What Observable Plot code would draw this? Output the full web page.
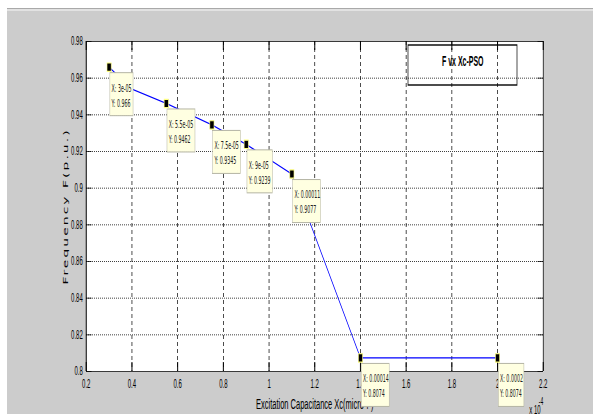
<!DOCTYPE html>
<html>
<head>
<meta charset="utf-8">
<script src="https://cdn.jsdelivr.net/npm/d3@7"></script>
<script src="https://cdn.jsdelivr.net/npm/@observablehq/plot@0.6"></script>
<style>
  html, body { margin: 0; padding: 0; background: #ffffff; }
  body { width: 593px; height: 414px; overflow: hidden; position: relative; }
  #fig { position: absolute; left: 7px; top: 8px; width: 586px; height: 406px;
         background: #cccccc; border-top: 1px solid #a9a9a9; box-sizing: border-box;
         box-shadow: inset 0 2px 0 #e2e2e2; }
  #chart { position: absolute; left: 0; top: 0; width: 593px; height: 414px; }
</style>
</head>
<body>
<div id="fig"></div>
<div id="chart"></div>
<script>
// ---- data (x in units of 1e-4 F) ----
const xValues = [0.3, 0.4, 0.55, 0.75, 0.9, 1.1, 1.4, 2.0];
const yValues = [0.966, 0.954, 0.9462, 0.9345, 0.9239, 0.9077, 0.8074, 0.8074];
const tipX = [0.3, 0.55, 0.75, 0.9, 1.1, 1.4, 2.0];
const tipY = [0.966, 0.9462, 0.9345, 0.9239, 0.9077, 0.8074, 0.8074];
const tipXLabels = ["3e-05", "5.5e-05", "7.5e-05", "9e-05", "0.00011", "0.00014", "0.0002"];
const tipYLabels = ["0.966", "0.9462", "0.9345", "0.9239", "0.9077", "0.8074", "0.8074"];
const xTicks = [0.2, 0.4, 0.6, 0.8, 1.0, 1.2, 1.4, 1.6, 1.8, 2.0, 2.2];
const xTickLabels = ["0.2", "0.4", "0.6", "0.8", "1", "1.2", "1.4", "1.6", "1.8", "2", "2.2"];
const yTicks = [0.8, 0.82, 0.84, 0.86, 0.88, 0.9, 0.92, 0.94, 0.96, 0.98];
const yTickLabels = ["0.8", "0.82", "0.84", "0.86", "0.88", "0.9", "0.92", "0.94", "0.96", "0.98"];
const legendLabel = "F vx Xc-PSO";
const xLabel = "Excitation Capacitance Xc(micro-F)";
const yLabel = "Frequency F(p.u.)";
const xMultiplier = "x 10";
const xExponent = "-4";

// ---- build ----
const S = 2;                 // horizontal squash factor of the original screenshot
const W = 593 * S, H = 414;
const series = xValues.map((x, i) => ({x, y: yValues[i]}));
const tips = tipX.map((x, i) => ({x, y: tipY[i], lx: "X: " + tipXLabels[i], ly: "Y: " + tipYLabels[i]}));
const xFmt = new Map(xTicks.map((t, i) => [t, xTickLabels[i]]));
const yFmt = new Map(yTicks.map((t, i) => [t, yTickLabels[i]]));
const x0 = xTicks[0], x1 = xTicks[xTicks.length - 1];
const y0 = yTicks[0], y1 = yTicks[yTicks.length - 1];
const tickLenY = (y1 - y0) * 9 / 330;    // ~9 px
const tickLenX = (x1 - x0) * 11 / 914;   // ~11 internal px
const tipFont = "'Liberation Sans Narrow', 'Arial Narrow', 'DejaVu Sans Condensed', sans-serif";

const tipBoxes = tips.map(t => {
  const len = Math.max(t.lx.length, t.ly.length);
  const w = S * (4 + 2.4 * len);
  return Plot.rect([t], {x1: "x", x2: "x", y1: "y", y2: "y",
    insetLeft: 2, insetRight: -(2 + w), insetTop: 6, insetBottom: -49,
    fill: "#ffffe1", stroke: "#b4b4a4", strokeWidth: 1});
});

const svg = Plot.plot({
  width: W, height: H,
  marginLeft: 172, marginRight: 100, marginTop: 41, marginBottom: 43,
  style: {fontFamily: "'Liberation Sans', Arial, sans-serif", fontSize: "12px", color: "black", background: "transparent", overflow: "visible"},
  x: {domain: [x0, x1], ticks: xTicks, tickFormat: d => xFmt.get(d), tickSize: 0, tickPadding: 8, label: null},
  y: {domain: [y0, y1], ticks: yTicks, tickFormat: d => yFmt.get(d), tickSize: 0, tickPadding: 7, label: null},
  marks: [
    Plot.frame({fill: "white", stroke: "none"}),
    Plot.ruleY(yTicks.slice(1, -1), {stroke: "black", strokeWidth: 1, strokeDasharray: "2,2"}),
    Plot.ruleX(xTicks.slice(1, -1), {stroke: "black", strokeWidth: 1.4, strokeDasharray: "4,3"}),
    Plot.ruleX(xTicks, {y1: y0, y2: y0 + tickLenY, stroke: "black", strokeWidth: 2}),
    Plot.ruleX(xTicks, {y1: y1, y2: y1 - tickLenY, stroke: "black", strokeWidth: 2}),
    Plot.ruleY(yTicks, {x1: x0, x2: x0 + tickLenX, stroke: "black", strokeWidth: 1}),
    Plot.ruleY(yTicks, {x1: x1, x2: x1 - tickLenX, stroke: "black", strokeWidth: 1}),
    Plot.ruleY([y0, y1], {stroke: "black", strokeWidth: 1}),
    Plot.ruleX([x0], {stroke: "black", strokeWidth: 2}),
    Plot.ruleX([x1], {stroke: "black", strokeWidth: 1.5}),
    Plot.text([xLabel], {frameAnchor: "bottom", dy: 33, textAnchor: "middle", lineAnchor: "middle", fontSize: 15, fill: "black"}),
    Plot.text([yLabel], {frameAnchor: "left", rotate: -90, dx: -40, textAnchor: "middle", lineAnchor: "middle", fontSize: 14,
      fontFamily: "'DejaVu Sans', sans-serif", fill: "black"}),
    Plot.text([xMultiplier], {frameAnchor: "bottom-right", dx: -28, dy: 39, textAnchor: "start", lineAnchor: "middle", fontSize: 12, fill: "black"}),
    Plot.text([xExponent], {frameAnchor: "bottom-right", dx: -9, dy: 30, textAnchor: "start", lineAnchor: "middle", fontSize: 10, fill: "black"}),
    Plot.text([legendLabel], {frameAnchor: "top-right", dx: -161, dy: 20, textAnchor: "middle", lineAnchor: "middle", fontSize: 14, fontWeight: "bold", fill: "black"}),
    Plot.line(series, {x: "x", y: "y", stroke: "#0000ff", strokeWidth: 1.3}),
    ...tipBoxes,
    Plot.dot(tips, {x: "x", y: "y", symbol: "square", r: 4.7, fill: "black", stroke: "#ffff80", strokeWidth: 1.2}),
    Plot.text(tips, {x: "x", y: "y", text: "lx", dx: 5, dy: 21, textAnchor: "start", lineAnchor: "middle", fontSize: 10.5, fontFamily: tipFont, fill: "#222"}),
    Plot.text(tips, {x: "x", y: "y", text: "ly", dx: 5, dy: 36, textAnchor: "start", lineAnchor: "middle", fontSize: 10.5, fontFamily: tipFont, fill: "#222"})
  ]
});

svg.setAttribute("width", 593);
svg.setAttribute("height", 414);
svg.setAttribute("viewBox", `0 0 ${W} ${H}`);
svg.setAttribute("preserveAspectRatio", "none");
Object.assign(svg.style, {width: "593px", height: "414px", maxWidth: "none", background: "transparent", display: "block"});

d3.select(svg).selectAll("text").filter(function () { return this.textContent === yLabel; })
  .attr("letter-spacing", "2px");

// legend box
d3.select(svg).append("rect")
  .attr("x", 816).attr("y", 45).attr("width", 218).attr("height", 40)
  .attr("fill", "none").attr("stroke", "black").attr("stroke-width", 1.4);

document.getElementById("chart").appendChild(svg);
</script>
</body>
</html>
